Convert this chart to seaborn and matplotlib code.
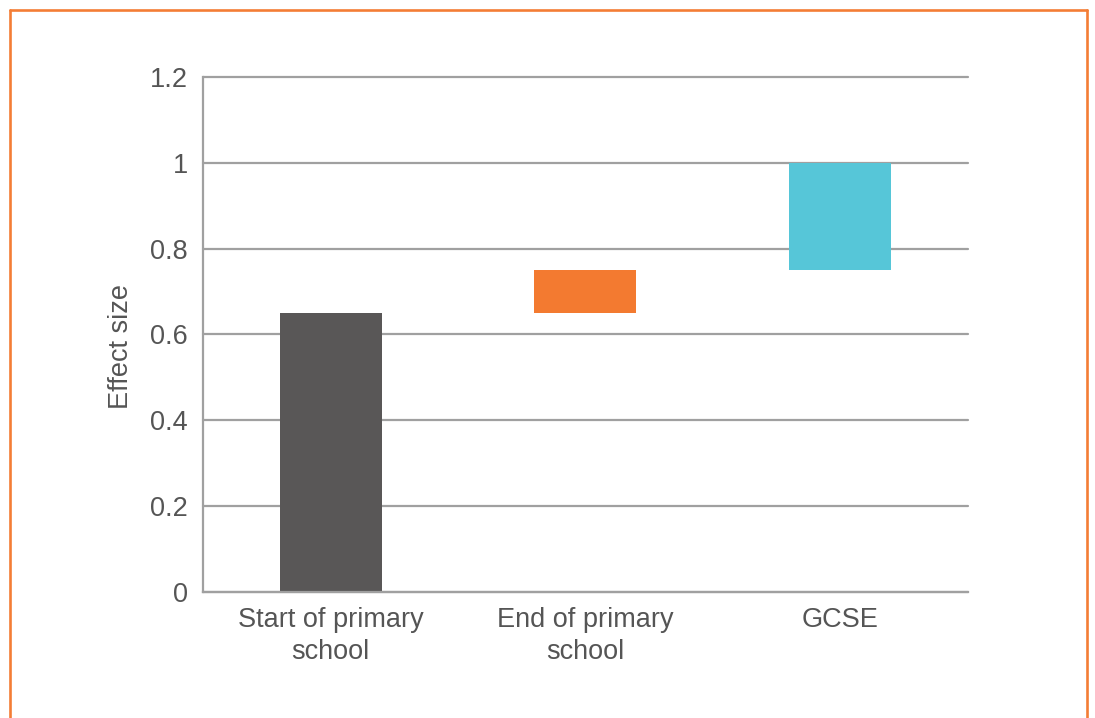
import matplotlib
matplotlib.use("Agg")
import matplotlib.pyplot as plt
from matplotlib.lines import Line2D
import seaborn as sns
import pandas as pd

# Effect size of the attainment gap at each stage (floating bars: base -> top)
categories = ["Start of primary\nschool", "End of primary\nschool", "GCSE"]
bar_base = [0.0, 0.65, 0.75]
bar_top = [0.65, 0.75, 1.0]
bar_colors = ["#595757", "#F37A30", "#56C6D8"]
y_ticks = [0, 0.2, 0.4, 0.6, 0.8, 1.0, 1.2]
y_tick_labels = ["0", "0.2", "0.4", "0.6", "0.8", "1", "1.2"]

df = pd.DataFrame({
    "stage": categories,
    "base": bar_base,
    "span": [t - b for t, b in zip(bar_top, bar_base)],
})

sns.set_theme(style="white")
plt.rcParams["font.family"] = ["Liberation Sans", "DejaVu Sans"]

text_color = "#555555"
grid_color = "#A0A0A0"
fs = 19.5

fig = plt.figure(figsize=(10.95, 7.18), dpi=100)
ax = fig.add_axes([0.1854, 0.1755, 0.6986, 0.7173])

sns.barplot(data=df, x="stage", y="span", bottom=df["base"].to_numpy(),
            order=categories, width=0.4, ax=ax, errorbar=None,
            color=bar_colors[0], linewidth=0, saturation=1)
for patch, c in zip(ax.patches, bar_colors):
    patch.set_facecolor(c)
    patch.set_edgecolor("none")

ax.set_ylim(0, 1.2)
ax.set_xlim(-0.5, 2.5)
ax.set_yticks(y_ticks)
ax.set_yticklabels(y_tick_labels)
ax.set_axisbelow(True)
ax.yaxis.grid(True, color=grid_color, linewidth=1.6)
ax.xaxis.grid(False)
for gl in ax.get_ygridlines():
    gl.set_clip_on(False)

for side in ["top", "right"]:
    ax.spines[side].set_visible(False)
for side in ["left", "bottom"]:
    ax.spines[side].set_color(grid_color)
    ax.spines[side].set_linewidth(1.6)

ax.tick_params(axis="y", length=0, pad=11, labelsize=fs, labelcolor=text_color)
ax.tick_params(axis="x", length=0, pad=11, labelsize=fs, labelcolor=text_color)
for lab in ax.get_xticklabels():
    lab.set_linespacing(1.3)

ax.set_xlabel("")
ax.set_ylabel("Effect size", fontsize=fs, color=text_color)
ax.yaxis.set_label_coords(-0.09, 0.476)

# Orange panel border (open at the bottom)
frame_color = "#F47D35"
lw = 1.9
x0, x1, y1 = 0.0092, 0.9927, 0.9865
fig.add_artist(Line2D([x0, x0], [-0.05, y1], transform=fig.transFigure, color=frame_color, lw=lw))
fig.add_artist(Line2D([x0, x1], [y1, y1], transform=fig.transFigure, color=frame_color, lw=lw))
fig.add_artist(Line2D([x1, x1], [-0.05, y1], transform=fig.transFigure, color=frame_color, lw=lw))

fig.savefig("out.png", dpi=100, facecolor="white")
